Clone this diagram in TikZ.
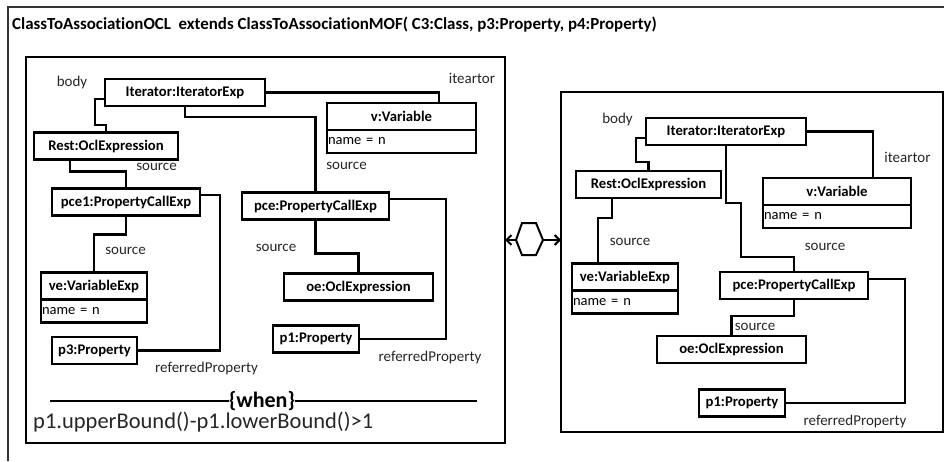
\documentclass[tikz,border=0pt]{standalone}
\usepackage{fontspec}
\setmainfont[Ligatures=NoCommon]{Carlito}
\usetikzlibrary{calc}
\usetikzlibrary{arrows.meta}

\begin{document}
\begin{tikzpicture}[x=1pt,y=-1pt,
  obj/.style={draw,line width=2.4pt,minimum height=27pt,inner sep=2pt,outer sep=0pt,font=\fontsize{14.7}{16}\selectfont\bfseries},
  attr/.style={draw,line width=2.4pt,minimum height=23pt,inner xsep=1pt,inner ysep=2pt,outer sep=0pt,align=left,font=\fontsize{14.5}{16}\selectfont},
  lab/.style={inner sep=0pt,font=\fontsize{15}{16}\selectfont,text=black!85},
  link/.style={line width=2.2pt},
  cadre/.style={draw,line width=2.4pt,outer sep=0pt}]
 \useasboundingbox (0,0) rectangle (944,461);
 %cadre exterieur
 \draw [line width=1.6pt,black!80] (944,7) -- (8,7) -- (8,461);
 \node [anchor=west,inner sep=0pt,font=\fontsize{16.9}{19}\selectfont\bfseries] (titre) at (12,25)
   {ClassToAssociationOCL\ \ extends ClassToAssociationMOF( C3:Class, p3:Property, p4:Property)};

 %rectangle 1 (gauche)
 \node [cadre,minimum width=479,minimum height=386] (lhs) at (265.5,250) {};
 \node [obj,minimum width=160] (itL) at (185,92.5) {Iterator:IteratorExp};
 \node [obj,minimum width=144] (restL) at (106,146) {Rest:OclExpression};
 \node [obj,minimum width=148] (pceUnL) at (126,202) {pce1:PropertyCallExp};
 \node [obj,minimum width=106] (veL) at (94,286) {ve:VariableExp};
 \node [attr,text width=104,anchor=north] (veLa) at (veL.south) {name = n};
 \node [obj,minimum width=85] (ptroisL) at (94.5,350.5) {p3:Property};
 \node [obj,minimum width=149] (vL) at (401.5,116.5) {v:Variable};
 \node [attr,text width=147,anchor=north] (vLa) at (vL.south) {name = n};
 \node [obj,minimum width=147] (pceL) at (315.5,206) {pce:PropertyCallExp};
 \node [obj,minimum width=149] (oeL) at (358.5,287) {oe:OclExpression};
 \node [obj,minimum width=86] (punL) at (316,339) {p1:Property};
 \draw [link] ([yshift=-6.5]itL.west) -- ++(-10,0) -- ++(0,26) -| (restL.north);
 \draw [link] (itL.east) -| ([xshift=37.5]vL.north);
 \draw [link] (itL.south) -- ++(0,11) -| (pceL.north);
 \draw [link] ([xshift=-36]restL.south) -- ++(0,12) -| (pceUnL.north);
 \draw [link] (pceUnL.south) -- ++(0,19) -| (veL.north);
 \draw [link] ([yshift=7]pceUnL.east) -- ++(20,0) |- (ptroisL.east);
 \draw [link] ([yshift=7]pceL.east) -- ++(57,0) |- (punL.east);
 \draw [link] (pceL.south) -- ++(0,34) -| (oeL.north);
 \node [lab] at (72,82) {body};
 \node [lab] at (472,78) {iteartor};
 \node [lab] at (156.5,167) {source};
 \node [lab] at (346.5,166) {source};
 \node [lab] at (125.5,251) {source};
 \node [lab] at (276,248) {source};
 \node [lab] at (206.5,368) {referredProperty};
 \node [lab] at (430,357) {referredProperty};
 %condition when
 \node [inner sep=0pt,font=\fontsize{22}{24}\selectfont\bfseries] (when) at (262,401) {\{when\}};
 \coordinate (whenG) at (50,401);
 \coordinate (whenD) at (477,401);
 \draw [line width=2.2pt] (whenG) -- (when.west);
 \draw [line width=2.2pt] (when.east) -- (whenD);
 \node [anchor=base west,inner sep=0pt,font=\fontsize{22.5}{24}\selectfont,text=black!85] (cond) at (33,428)
   {p1.upperBound()-p1.lowerBound()>1};

 %hexagone
 \coordinate (hexG) at (516,240);
 \coordinate (hexD) at (543,240);
 \draw [line width=2pt] (hexG) -- ++(6,-17) -- ++(14,0) -- (hexD) -- ++(-7,15) -- ++(-14,0) -- cycle;

 %rectangle 2 (droite)
 \node [cadre,minimum width=382,minimum height=340] (rhs) at (752,262) {};
 \draw [line width=2pt,-{Straight Barb[length=5pt,width=10pt]}] (hexG) -- (lhs.east |- hexG);
 \draw [line width=2pt,-{Straight Barb[length=5pt,width=10pt]}] (hexD) -- (rhs.west |- hexD);
 \node [obj,minimum width=160] (itR) at (726,131.5) {Iterator:IteratorExp};
 \node [obj,minimum width=145] (restR) at (648.5,184.5) {Rest:OclExpression};
 \node [obj,minimum width=148] (vR) at (837,191.5) {v:Variable};
 \node [attr,text width=146,anchor=north] (vRa) at (vR.south) {name = n};
 \node [obj,minimum width=106] (veR) at (625,277) {ve:VariableExp};
 \node [attr,text width=104,anchor=north] (veRa) at (veR.south) {name = n};
 \node [obj,minimum width=148] (pceR) at (794,285.5) {pce:PropertyCallExp};
 \node [obj,minimum width=149] (oeR) at (731.5,349.5) {oe:OclExpression};
 \node [obj,minimum width=86] (punR) at (742,403) {p1:Property};
 \draw [link] ([yshift=-6.5]itR.west) -- ++(-10,0) -- ++(0,24) -| (restR.north);
 \draw [link] (itR.east) -| ([xshift=36]vR.north);
 \draw [link] (itR.south) -- ++(0,58) -- ++(15,0) -- ++(0,54) -| (pceR.north);
 \draw [link] ([xshift=-36.5]restR.south) -- ++(0,20) -| ([xshift=-27]veR.north);
 \draw [link] ([yshift=6.5]pceR.east) -- ++(37,0) |- (punR.east);
 \draw [link] (pceR.south) -- ++(0,17) -| (oeR.north);
 \node [lab] at (617.5,119) {body};
 \node [lab] at (907.5,157) {iteartor};
 \node [lab] at (630,242) {source};
 \node [lab] at (825,247) {source};
 \node [lab] at (755,327) {source};
 \node [lab] at (855,421) {referredProperty};
\end{tikzpicture}
\end{document}
